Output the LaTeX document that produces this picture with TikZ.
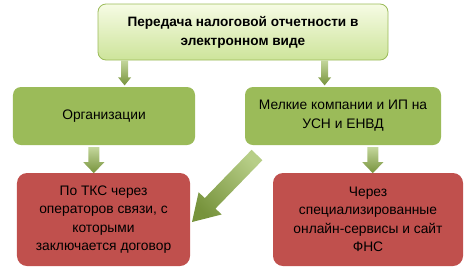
\documentclass[tikz,border=0pt]{standalone}
\usepackage{fontspec}
\setmainfont{Liberation Sans}
\usetikzlibrary{calc}
\definecolor{olive}{HTML}{9BBB59}
\definecolor{oliveDark}{HTML}{77933C}
\definecolor{oliveLight}{HTML}{C3D69B}
\definecolor{topLight}{HTML}{F6FBE4}
\definecolor{topDark}{HTML}{CDE49A}
\definecolor{brick}{HTML}{C0504D}
\newcommand\barrowpath[6]{%
  % #1 tail, #2 tip, #3 shaft half width, #4 head half width, #5 head length, #6 style
  \path[#6] let \p1=($(#2)!#5!(#1)$) in
    ($(#1)!#3!90:(#2)$) -- ($(\p1)!#3!-90:(#1)$) -- ($(\p1)!#4!-90:(#1)$) -- (#2)
    -- ($(\p1)!#4!90:(#1)$) -- ($(\p1)!#3!90:(#1)$) -- ($(#1)!#3!-90:(#2)$) -- cycle;
}
\begin{document}
\begin{tikzpicture}[x=1bp,y=-1bp,
  txt/.style={font=\fontsize{13.8bp}{18.5bp}\selectfont, align=center, inner sep=0pt},
  topbox/.style={txt, rounded corners=8bp, draw=olive, line width=0.8bp, top color=topLight, bottom color=topDark, minimum width=290bp, minimum height=56bp, font=\fontsize{13.6bp}{19bp}\selectfont\bfseries},
  midbox/.style={txt, rounded corners=8bp, fill=olive, minimum height=58bp, font=\fontsize{13.8bp}{19bp}\selectfont},
  lowbox/.style={txt, rounded corners=10bp, fill=brick, minimum height=93bp},
  smallarr/.style={top color=oliveLight, bottom color=oliveDark},
  bigarr/.style={top color=oliveLight!70!olive, bottom color=oliveDark}
]
\useasboundingbox (0,0) rectangle (474,267);
\node[topbox] (top) at (243,32) {Передача налоговой отчетности в\\электронном виде};
\node[midbox, minimum width=182bp] (org) at (104,116) {Организации};
\node[midbox, minimum width=196bp] (small) at (343,116) {Мелкие компании и ИП на\\УСН и ЕНВД};
\node[lowbox, minimum width=173bp] (tks) at (103.5,219.5) {По ТКС через\\операторов связи, с\\которыми\\заключается договор};
\node[lowbox, minimum width=190bp] (fns) at (368,219.5) {Через\\специализированные\\онлайн-сервисы и сайт\\ФНС};
% arrow end points
\coordinate (a1s) at ($(top.south west)+(27,0)$);
\coordinate (a1e) at ($(a1s)+(0,25)$);
\coordinate (a2s) at ($(top.south west)+(227,0)$);
\coordinate (a2e) at ($(a2s)+(0,25)$);
\coordinate (b1s) at ($(org.south west)+(81,2)$);
\coordinate (b1e) at ($(b1s)+(0,26)$);
\coordinate (b2s) at ($(small.south west)+(128,2)$);
\coordinate (b2e) at ($(b2s)+(0,26)$);
\coordinate (c1s) at (257,155);
\coordinate (c1e) at (192,222);
\barrowpath{a1s}{a1e}{3.5bp}{6.5bp}{8bp}{smallarr}
\barrowpath{a2s}{a2e}{3.5bp}{6.5bp}{8bp}{smallarr}
\barrowpath{b1s}{b1e}{5.5bp}{10.5bp}{11bp}{smallarr}
\barrowpath{b2s}{b2e}{5.5bp}{10.5bp}{11bp}{smallarr}
\barrowpath{c1s}{c1e}{7.5bp}{16bp}{26bp}{bigarr, shading angle=-45}
\end{tikzpicture}
\end{document}
